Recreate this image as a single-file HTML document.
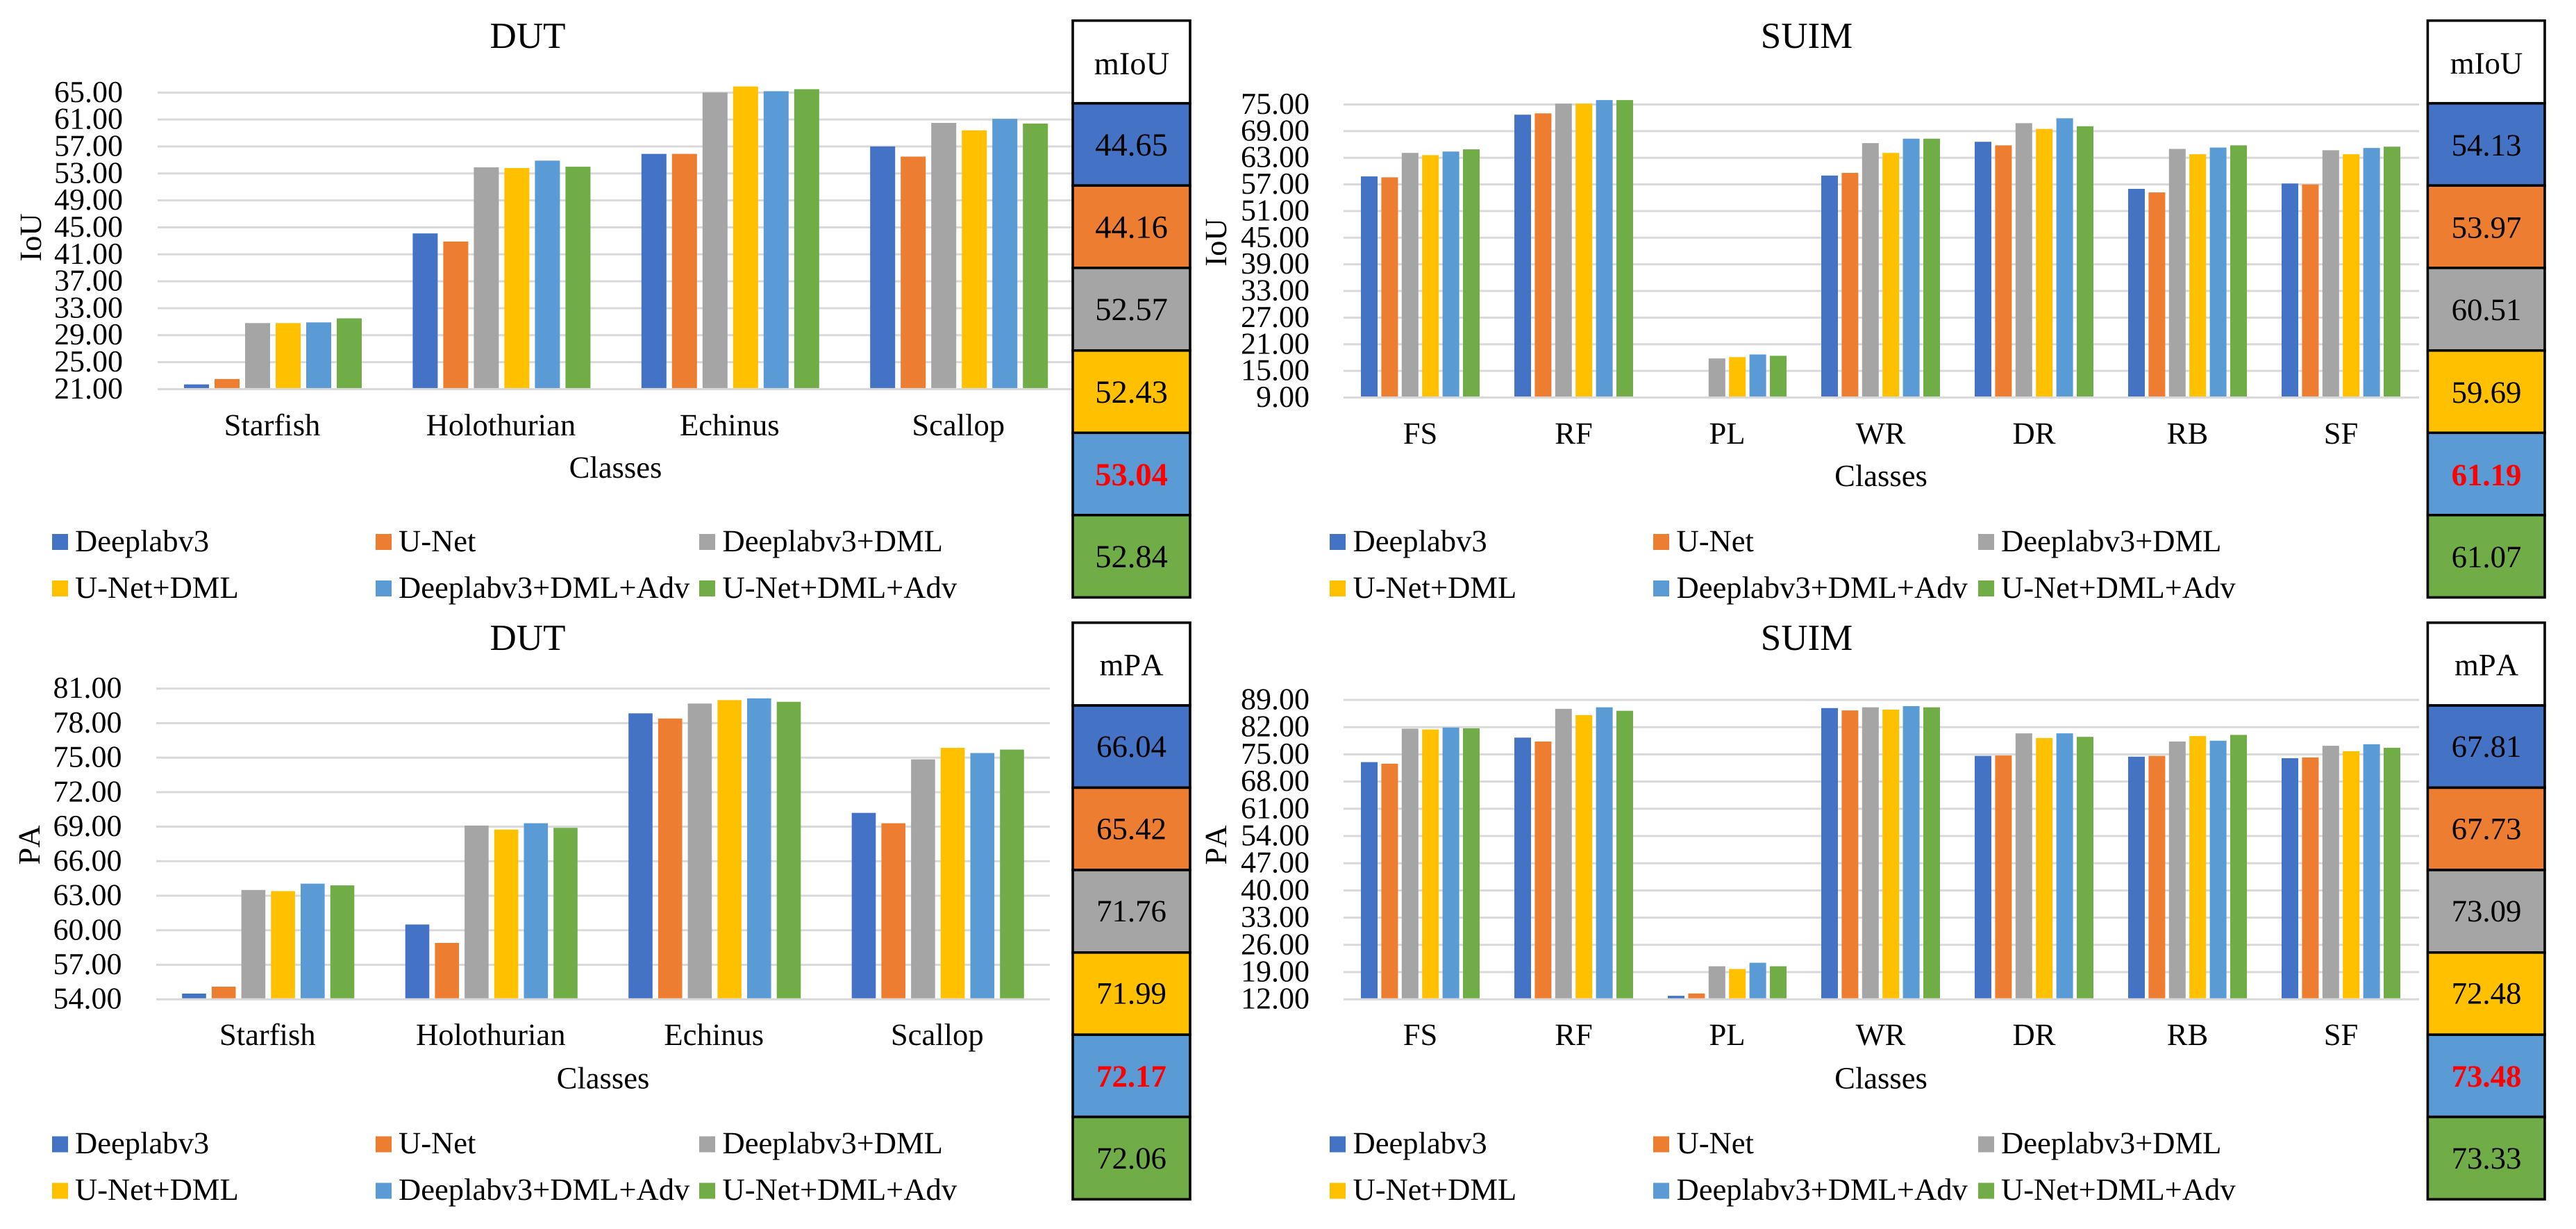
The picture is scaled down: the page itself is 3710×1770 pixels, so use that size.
<!DOCTYPE html>
<html lang="en">
<head>
<meta charset="utf-8">
<title>DUT and SUIM segmentation results</title>
<style>
html,body{margin:0;padding:0;background:#fff;width:3710px;height:1770px;overflow:hidden}
svg{display:block;font-family:"Liberation Serif","Times New Roman",serif;fill:#000;font-kerning:none;text-rendering:geometricPrecision}
.title{font-size:53px;text-anchor:middle}
.axis{font-size:44.6px;text-anchor:middle}
.tick{font-size:44px;text-anchor:end}
.leg{font-size:44.6px}
.cell{font-size:44.8px;text-anchor:middle}
.t46 .cell{font-size:46.5px}
.best{fill:#f00;font-weight:bold}
.box{stroke:#000;stroke-width:3.6}
.s0{fill:#4472C4}.s1{fill:#ED7D31}.s2{fill:#A5A5A5}.s3{fill:#FFC000}.s4{fill:#5B9BD5}.s5{fill:#70AD47}
</style>
</head>
<body>
<svg xmlns="http://www.w3.org/2000/svg" width="3710" height="1770" viewBox="0 0 3710 1770">

<!-- DUT IoU -->
<g>
  <g id="plot-dut-iou"></g>
  <text class="title" x="760" y="69">DUT</text>
  <text class="axis" x="886.5" y="688">Classes</text>
  <text class="axis" transform="translate(59 342) rotate(-90)">IoU</text>
  <g>
    <rect class="s0" x="75" y="769" width="23" height="23"/><text class="leg" x="108" y="794">Deeplabv3</text>
    <rect class="s1" x="541" y="769" width="23" height="23"/><text class="leg" x="574" y="794">U-Net</text>
    <rect class="s2" x="1007" y="769" width="23" height="23"/><text class="leg" x="1040.5" y="794">Deeplabv3+DML</text>
    <rect class="s3" x="75" y="836" width="23" height="23"/><text class="leg" x="108" y="861">U-Net+DML</text>
    <rect class="s4" x="541" y="836" width="23" height="23"/><text class="leg" x="574" y="861">Deeplabv3+DML+Adv</text>
    <rect class="s5" x="1007" y="836" width="23" height="23"/><text class="leg" x="1040.5" y="861">U-Net+DML+Adv</text>
  </g>
  <g class="t46">
    <rect class="box" fill="#fff" x="1545" y="29.7" width="169" height="119"/><text class="cell" x="1630" y="107">mIoU</text>
    <rect class="box s0" x="1545" y="148.8" width="169" height="118.4"/><text class="cell" x="1629.5" y="224">44.65</text>
    <rect class="box s1" x="1545" y="267.2" width="169" height="118.6"/><text class="cell" x="1629.5" y="342.5">44.16</text>
    <rect class="box s2" x="1545" y="385.8" width="169" height="119"/><text class="cell" x="1629.5" y="461">52.57</text>
    <rect class="box s3" x="1545" y="504.8" width="169" height="118.5"/><text class="cell" x="1629.5" y="580">52.43</text>
    <rect class="box s4" x="1545" y="623.3" width="169" height="118.5"/><text class="cell best" x="1629.5" y="699">53.04</text>
    <rect class="box s5" x="1545" y="741.8" width="169" height="118.6"/><text class="cell" x="1629.5" y="817">52.84</text>
  </g>
</g>

<!-- SUIM IoU -->
<g>
  <g id="plot-suim-iou"></g>
  <text class="title" x="2602" y="69">SUIM</text>
  <text class="axis" x="2709" y="700">Classes</text>
  <text class="axis" transform="translate(1766 349) rotate(-90)">IoU</text>
  <g>
    <rect class="s0" x="1915" y="769" width="23" height="23"/><text class="leg" x="1948.5" y="794">Deeplabv3</text>
    <rect class="s1" x="2381" y="769" width="23" height="23"/><text class="leg" x="2414.5" y="794">U-Net</text>
    <rect class="s2" x="2849" y="769" width="23" height="23"/><text class="leg" x="2882" y="794">Deeplabv3+DML</text>
    <rect class="s3" x="1915" y="836" width="23" height="23"/><text class="leg" x="1948.5" y="861">U-Net+DML</text>
    <rect class="s4" x="2381" y="836" width="23" height="23"/><text class="leg" x="2414.5" y="861">Deeplabv3+DML+Adv</text>
    <rect class="s5" x="2849" y="836" width="23" height="23"/><text class="leg" x="2882" y="861">U-Net+DML+Adv</text>
  </g>
  <g>
    <rect class="box" fill="#fff" x="3496.4" y="29.7" width="168.6" height="119"/><text class="cell" x="3581" y="106">mIoU</text>
    <rect class="box s0" x="3496.4" y="148.8" width="168.6" height="118.4"/><text class="cell" x="3581" y="224">54.13</text>
    <rect class="box s1" x="3496.4" y="267.2" width="168.6" height="118.6"/><text class="cell" x="3581" y="342.5">53.97</text>
    <rect class="box s2" x="3496.4" y="385.8" width="168.6" height="119"/><text class="cell" x="3581" y="461">60.51</text>
    <rect class="box s3" x="3496.4" y="504.8" width="168.6" height="118.5"/><text class="cell" x="3581" y="580">59.69</text>
    <rect class="box s4" x="3496.4" y="623.3" width="168.6" height="118.5"/><text class="cell best" x="3581" y="699">61.19</text>
    <rect class="box s5" x="3496.4" y="741.8" width="168.6" height="118.6"/><text class="cell" x="3581" y="817">61.07</text>
  </g>
</g>

<!-- DUT PA -->
<g>
  <g id="plot-dut-pa"></g>
  <text class="title" x="760" y="936">DUT</text>
  <text class="axis" x="868.5" y="1567.5">Classes</text>
  <text class="axis" transform="translate(57 1217) rotate(-90)">PA</text>
  <g>
    <rect class="s0" x="75" y="1636.5" width="23" height="23"/><text class="leg" x="108" y="1661">Deeplabv3</text>
    <rect class="s1" x="541" y="1636.5" width="23" height="23"/><text class="leg" x="574" y="1661">U-Net</text>
    <rect class="s2" x="1007" y="1636.5" width="23" height="23"/><text class="leg" x="1040.5" y="1661">Deeplabv3+DML</text>
    <rect class="s3" x="75" y="1703.5" width="23" height="23"/><text class="leg" x="108" y="1728">U-Net+DML</text>
    <rect class="s4" x="541" y="1703.5" width="23" height="23"/><text class="leg" x="574" y="1728">Deeplabv3+DML+Adv</text>
    <rect class="s5" x="1007" y="1703.5" width="23" height="23"/><text class="leg" x="1040.5" y="1728">U-Net+DML+Adv</text>
  </g>
  <g>
    <rect class="box" fill="#fff" x="1545" y="896.8" width="169" height="119.2"/><text class="cell" x="1629.5" y="972.5">mPA</text>
    <rect class="box s0" x="1545" y="1016" width="169" height="118.4"/><text class="cell" x="1629.5" y="1090">66.04</text>
    <rect class="box s1" x="1545" y="1134.4" width="169" height="118.6"/><text class="cell" x="1629.5" y="1208.5">65.42</text>
    <rect class="box s2" x="1545" y="1253" width="169" height="118.8"/><text class="cell" x="1629.5" y="1327">71.76</text>
    <rect class="box s3" x="1545" y="1371.8" width="169" height="118.4"/><text class="cell" x="1629.5" y="1445.5">71.99</text>
    <rect class="box s4" x="1545" y="1490.2" width="169" height="118.4"/><text class="cell best" x="1629.5" y="1565">72.17</text>
    <rect class="box s5" x="1545" y="1608.6" width="169" height="118.6"/><text class="cell" x="1629.5" y="1683">72.06</text>
  </g>
</g>

<!-- SUIM PA -->
<g>
  <g id="plot-suim-pa"></g>
  <text class="title" x="2602" y="936">SUIM</text>
  <text class="axis" x="2709" y="1567.5">Classes</text>
  <text class="axis" transform="translate(1766 1217) rotate(-90)">PA</text>
  <g>
    <rect class="s0" x="1915" y="1636.5" width="23" height="23"/><text class="leg" x="1948.5" y="1661">Deeplabv3</text>
    <rect class="s1" x="2381" y="1636.5" width="23" height="23"/><text class="leg" x="2414.5" y="1661">U-Net</text>
    <rect class="s2" x="2849" y="1636.5" width="23" height="23"/><text class="leg" x="2882" y="1661">Deeplabv3+DML</text>
    <rect class="s3" x="1915" y="1703.5" width="23" height="23"/><text class="leg" x="1948.5" y="1728">U-Net+DML</text>
    <rect class="s4" x="2381" y="1703.5" width="23" height="23"/><text class="leg" x="2414.5" y="1728">Deeplabv3+DML+Adv</text>
    <rect class="s5" x="2849" y="1703.5" width="23" height="23"/><text class="leg" x="2882" y="1728">U-Net+DML+Adv</text>
  </g>
  <g>
    <rect class="box" fill="#fff" x="3496.4" y="896.8" width="168.6" height="119.2"/><text class="cell" x="3581" y="972.5">mPA</text>
    <rect class="box s0" x="3496.4" y="1016" width="168.6" height="118.4"/><text class="cell" x="3581" y="1090">67.81</text>
    <rect class="box s1" x="3496.4" y="1134.4" width="168.6" height="118.6"/><text class="cell" x="3581" y="1208.5">67.73</text>
    <rect class="box s2" x="3496.4" y="1253" width="168.6" height="118.8"/><text class="cell" x="3581" y="1327">73.09</text>
    <rect class="box s3" x="3496.4" y="1371.8" width="168.6" height="118.4"/><text class="cell" x="3581" y="1445.5">72.48</text>
    <rect class="box s4" x="3496.4" y="1490.2" width="168.6" height="118.4"/><text class="cell best" x="3581" y="1565">73.48</text>
    <rect class="box s5" x="3496.4" y="1608.6" width="168.6" height="118.6"/><text class="cell" x="3581" y="1683">73.33</text>
  </g>
</g>
</svg>

<script>
// Categories
const dutClasses = ['Starfish', 'Holothurian', 'Echinus', 'Scallop'];
const suimClasses = ['FS', 'RF', 'PL', 'WR', 'DR', 'RB', 'SF'];
const seriesKeys = ['deeplabv3', 'unet', 'deeplabv3-dml', 'unet-dml', 'deeplabv3-dml-adv', 'unet-dml-adv'];

// Y-axis ticks
const dutIouTicks = [21, 25, 29, 33, 37, 41, 45, 49, 53, 57, 61, 65];
const suimIouTicks = [9, 15, 21, 27, 33, 39, 45, 51, 57, 63, 69, 75];
const dutPaTicks = [54, 57, 60, 63, 66, 69, 72, 75, 78, 81];
const suimPaTicks = [12, 19, 26, 33, 40, 47, 54, 61, 68, 75, 82, 89];

// DUT IoU series
const dutIouDeeplabv3 = [21.7, 44.1, 55.9, 57.0];
const dutIouUnet = [22.5, 42.9, 55.9, 55.5];
const dutIouDeeplabv3Dml = [30.8, 53.9, 65.0, 60.5];
const dutIouUnetDml = [30.8, 53.8, 65.9, 59.4];
const dutIouDeeplabv3DmlAdv = [30.9, 54.9, 65.2, 61.1];
const dutIouUnetDmlAdv = [31.5, 54.0, 65.5, 60.4];

// SUIM IoU series
const suimIouDeeplabv3 = [58.8, 72.7, 8.3, 59.0, 66.6, 56.0, 57.2];
const suimIouUnet = [58.6, 73.0, 8.2, 59.6, 65.8, 55.2, 57.0];
const suimIouDeeplabv3Dml = [64.1, 75.2, 17.8, 66.3, 70.8, 65.0, 64.7];
const suimIouUnetDml = [63.6, 75.2, 18.1, 64.1, 69.5, 63.8, 63.8];
const suimIouDeeplabv3DmlAdv = [64.4, 76.0, 18.7, 67.3, 71.9, 65.3, 65.2];
const suimIouUnetDmlAdv = [64.9, 76.0, 18.4, 67.3, 70.1, 65.8, 65.5];

// DUT PA series
const dutPaDeeplabv3 = [54.5, 60.5, 78.85, 70.2];
const dutPaUnet = [55.1, 58.9, 78.4, 69.3];
const dutPaDeeplabv3Dml = [63.5, 69.1, 79.7, 74.85];
const dutPaUnetDml = [63.4, 68.75, 80.0, 75.85];
const dutPaDeeplabv3DmlAdv = [64.05, 69.3, 80.15, 75.4];
const dutPaUnetDmlAdv = [63.9, 68.9, 79.85, 75.7];

// SUIM PA series
const suimPaDeeplabv3 = [73.0, 79.3, 12.9, 86.9, 74.6, 74.4, 74.0];
const suimPaUnet = [72.6, 78.3, 13.5, 86.3, 74.7, 74.6, 74.2];
const suimPaDeeplabv3Dml = [81.6, 86.7, 20.5, 87.1, 80.4, 78.3, 77.2];
const suimPaUnetDml = [81.4, 85.1, 19.8, 86.5, 79.2, 79.7, 75.8];
const suimPaDeeplabv3DmlAdv = [81.9, 87.1, 21.4, 87.4, 80.4, 78.5, 77.6];
const suimPaUnetDmlAdv = [81.7, 86.2, 20.5, 87.1, 79.5, 80.0, 76.7];

const SVG_NS = 'http://www.w3.org/2000/svg';

function drawChart(opts) {
  const host = document.getElementById(opts.host);
  const tMin = opts.ticks[0];
  const tMax = opts.ticks[opts.ticks.length - 1];
  const yScale = function (v) {
    return opts.yBottom - (v - tMin) * (opts.yBottom - opts.yTop) / (tMax - tMin);
  };
  const step = (opts.xRight - opts.xLeft) / opts.classes.length;
  const groupWidth = opts.barPitch * (opts.series.length - 1) + opts.barWidth;
  const xBar = function (c, s) {
    return opts.xLeft + step * (c + 0.5) - groupWidth / 2 + s * opts.barPitch;
  };
  const barBase = opts.yBottom - 1.5;

  opts.ticks.forEach(function (t) {
    const line = document.createElementNS(SVG_NS, 'rect');
    
    
    line.setAttribute('x', opts.gridLeft);
    line.setAttribute('y', yScale(t) - 1.5);
    line.setAttribute('width', opts.gridRight - opts.gridLeft);
    line.setAttribute('height', 3);
    line.setAttribute('fill', '#D9D9D9');
    host.appendChild(line);

    const label = document.createElementNS(SVG_NS, 'text');
    
    
    label.setAttribute('class', 'tick');
    label.setAttribute('x', opts.tickRight);
    label.setAttribute('y', yScale(t) + 13.5);
    label.textContent = t.toFixed(2);
    host.appendChild(label);
  });

  opts.series.forEach(function (values, s) {
    values.forEach(function (v, c) {
      const top = yScale(v);
      const bar = document.createElementNS(SVG_NS, 'rect');
      
      
      bar.setAttribute('data-series', seriesKeys[s]);
      bar.setAttribute('class', 's' + s);
      bar.setAttribute('x', xBar(c, s));
      bar.setAttribute('y', Math.min(top, barBase));
      bar.setAttribute('width', opts.barWidth);
      bar.setAttribute('height', Math.max(0, barBase - top));
      host.appendChild(bar);
    });
  });

  opts.classes.forEach(function (name, c) {
    const label = document.createElementNS(SVG_NS, 'text');
    
    
    label.setAttribute('class', 'axis');
    label.setAttribute('x', opts.xLeft + step * (c + 0.5) - opts.labelShift);
    label.setAttribute('y', opts.labelY);
    label.textContent = name;
    host.appendChild(label);
  });
}

drawChart({
  host: 'plot-dut-iou',
  classes: dutClasses,
  ticks: dutIouTicks,
  series: [dutIouDeeplabv3, dutIouUnet, dutIouDeeplabv3Dml, dutIouUnetDml, dutIouDeeplabv3DmlAdv, dutIouUnetDmlAdv],
  xLeft: 228.3, xRight: 1545.9, yTop: 133.3, yBottom: 560.4,
  gridLeft: 227, gridRight: 1545, tickRight: 177, labelY: 627, labelShift: 1,
  barWidth: 36, barPitch: 44
});
drawChart({
  host: 'plot-suim-iou',
  classes: suimClasses,
  ticks: suimIouTicks,
  series: [suimIouDeeplabv3, suimIouUnet, suimIouDeeplabv3Dml, suimIouUnetDml, suimIouDeeplabv3DmlAdv, suimIouUnetDmlAdv],
  xLeft: 1935, xRight: 3482, yTop: 150.5, yBottom: 572.5,
  gridLeft: 1935, gridRight: 3484, tickRight: 1886, labelY: 639, labelShift: 0,
  barWidth: 24, barPitch: 29.4
});
drawChart({
  host: 'plot-dut-pa',
  classes: dutClasses,
  ticks: dutPaTicks,
  series: [dutPaDeeplabv3, dutPaUnet, dutPaDeeplabv3Dml, dutPaUnetDml, dutPaDeeplabv3DmlAdv, dutPaUnetDmlAdv],
  xLeft: 225.5, xRight: 1511.5, yTop: 991.7, yBottom: 1439.2,
  gridLeft: 225, gridRight: 1512, tickRight: 175.5, labelY: 1505, labelShift: 1,
  barWidth: 34.6, barPitch: 42.7
});
drawChart({
  host: 'plot-suim-pa',
  classes: suimClasses,
  ticks: suimPaTicks,
  series: [suimPaDeeplabv3, suimPaUnet, suimPaDeeplabv3Dml, suimPaUnetDml, suimPaDeeplabv3DmlAdv, suimPaUnetDmlAdv],
  xLeft: 1935, xRight: 3482, yTop: 1008, yBottom: 1439.2,
  gridLeft: 1935, gridRight: 3484, tickRight: 1886, labelY: 1505, labelShift: 0,
  barWidth: 24, barPitch: 29.4
});
</script>
</body>
</html>
